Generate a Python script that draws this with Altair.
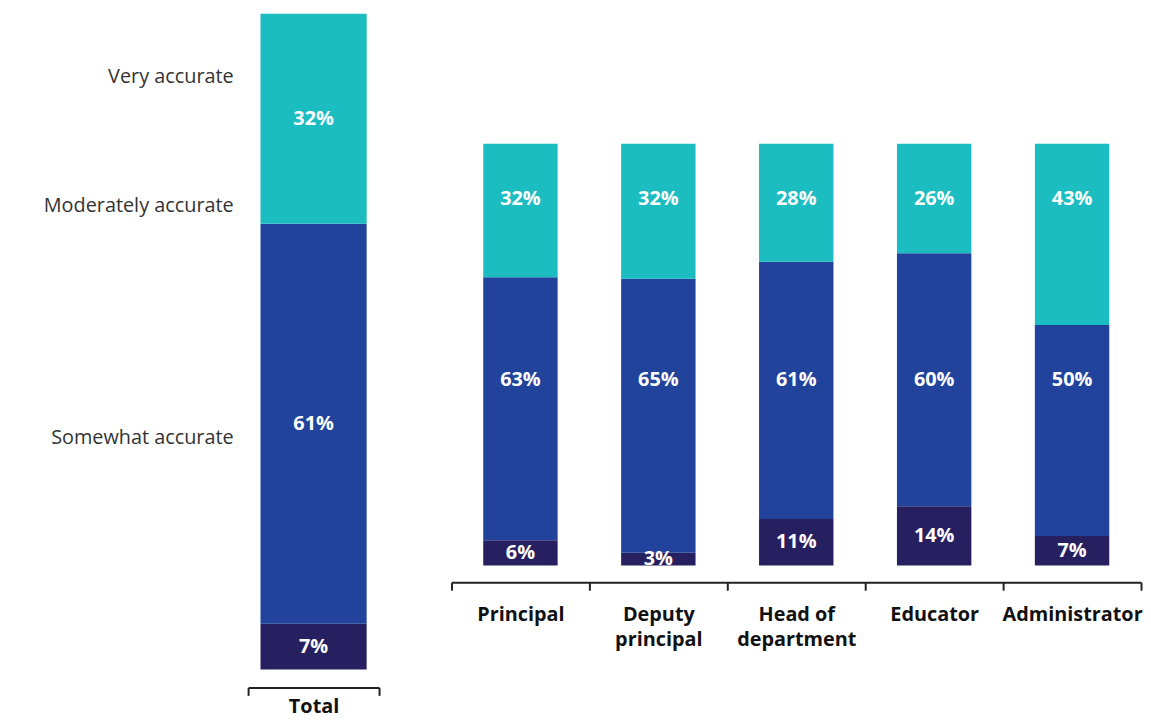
import altair as alt
import pandas as pd

roles = ["Total", "Principal", "Deputy principal", "Head of department", "Educator", "Administrator"]
role_labels = ["Total", "Principal", "Deputy\nprincipal", "Head of\ndepartment", "Educator", "Administrator"]
categories = ["Somewhat accurate", "Moderately accurate", "Very accurate"]
somewhat = [7, 6, 3, 11, 14, 7]
moderately = [61, 63, 65, 61, 60, 50]
very = [32, 32, 32, 28, 26, 43]
colors = ["#272060", "#21439b", "#1bbdc0"]

rows = []
for i, r in enumerate(roles):
    for j, (cat, vals) in enumerate(zip(categories, [somewhat, moderately, very])):
        rows.append({"role": role_labels[i], "category": cat, "order": j, "value": vals[i]})
df = pd.DataFrame(rows)

FONT = "Open Sans"
color_scale = alt.Scale(domain=categories, range=colors)

# where the left-hand category labels sit on the Total bar's scale
left_label_vals = [0.905, 0.708, 0.354]
left_label_names = ["Very accurate", "Moderately accurate", "Somewhat accurate"]
label_expr = " : ".join(
    [f"abs(datum.value - {v}) < 0.001 ? '{n}'" for v, n in zip(left_label_vals, left_label_names)]
) + " : ''"


def panel(data_filter, width, height, ymax, band, x_axis, y_axis, align_rows):
    base = alt.Chart(df).transform_filter(data_filter).transform_stack(
        stack="value", groupby=["role"], as_=["y0", "y1"], offset="normalize",
        sort=[alt.SortField("order", order="ascending")]
    ).transform_calculate(
        mid="(datum.y0 + datum.y1) / 2",
        lab="datum.value + '%'"
    )
    x = alt.X("role:N", sort=role_labels, title=None,
              scale=alt.Scale(paddingInner=0, paddingOuter=0),
              axis=x_axis)
    bars = base.mark_bar(width=alt.RelativeBandSize(band)).encode(
        x=x,
        y=alt.Y("y0:Q", scale=alt.Scale(domain=[0, ymax], nice=False, zero=True), axis=y_axis, title=None),
        y2="y1:Q",
        color=alt.Color("category:N", scale=color_scale, legend=None),
    )
    if align_rows:
        tbase = base.transform_joinaggregate(rowmid="max(mid)", groupby=["category"]).transform_calculate(
            ly="datum.order == 0 ? datum.mid : datum.rowmid"
        )
    else:
        tbase = base.transform_calculate(ly="datum.mid")
    text = tbase.mark_text(color="white", font=FONT, fontWeight="bold", fontSize=20, baseline="middle").encode(
        x=alt.X("role:N", sort=role_labels),
        y=alt.Y("ly:Q"),
        text="lab:N",
    )
    return (bars + text).properties(width=width, height=height)


left_y_axis = alt.Axis(values=left_label_vals, labelExpr=label_expr, domain=False, ticks=False,
                       grid=False, labelFont=FONT, labelFontSize=20, labelColor="#333333",
                       labelPadding=15, labelBaseline="middle", labelLimit=400)

common_x = dict(labelAngle=0, tickBand="extent", domainColor="#222222", domainWidth=2,
                tickColor="#222222", tickWidth=2, tickSize=8, labelFont=FONT, labelFontSize=20,
                labelFontWeight="bold", labelColor="#111111", labelLimit=300)

left = panel(alt.datum.role == "Total", 132, 661, 1.0, 107 / 132,
             alt.Axis(offset=18, labelPadding=1, **common_x),
             left_y_axis, False)

right = panel(alt.datum.role != "Total", 695, 556, 556 / 425, 75 / 139,
              alt.Axis(offset=17, labelPadding=15,
                       labelExpr="datum.value ? split(datum.value, '\\n') : ''",
                       labelLineHeight=25, labelBaseline="top", **common_x),
              None, True)

chart = alt.hconcat(left, right, spacing=71).configure_view(stroke=None).configure_axis(
    grid=False
).properties(padding={"left": 35, "top": 3, "right": 0, "bottom": 0})

chart.save("out.html", embed_options={"renderer": "svg", "actions": False})
